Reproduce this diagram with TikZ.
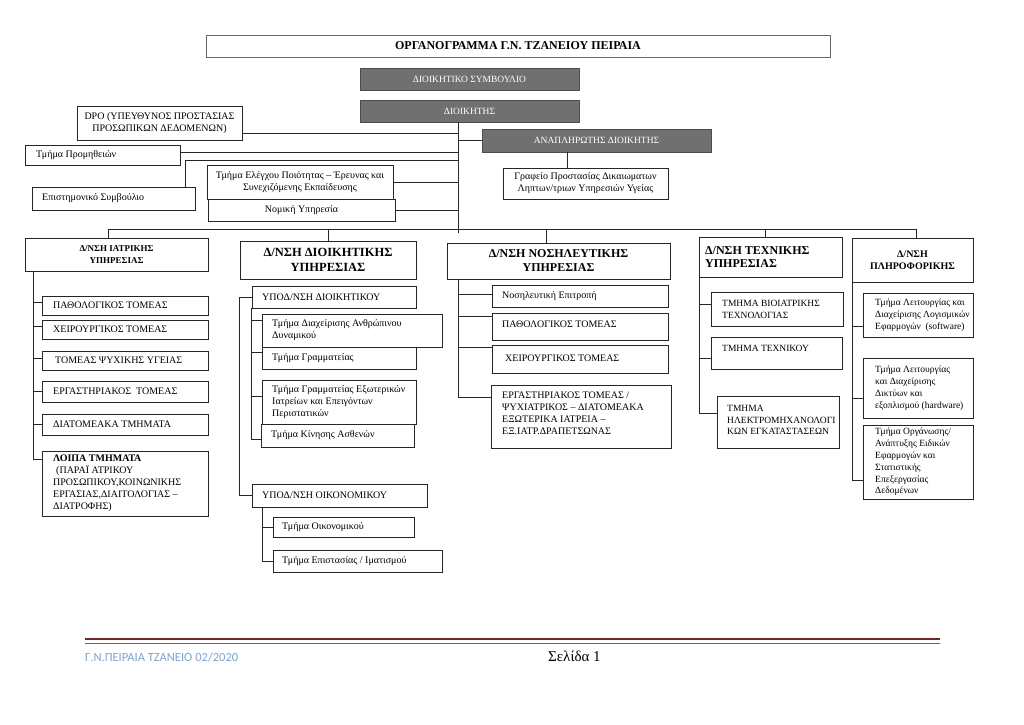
\documentclass[tikz,border=0pt]{standalone}
\usepackage{fontspec}
\setmainfont{Liberation Serif}
\newfontfamily\footfont{Carlito}

\definecolor{boardgray}{HTML}{707070}
\definecolor{footred}{HTML}{6B2A2A}
\definecolor{footblue}{HTML}{7FA3CF}

\tikzset{
  cell/.style={draw=black!85, line width=0.8pt, anchor=north west, inner sep=0pt,
    outer sep=0pt, align=center, font=\fontsize{10}{12}\selectfont},
  board/.style={cell, fill=boardgray, draw=black!70, text=white,
    font=\fontsize{9.5}{11}\selectfont},
  ctext/.style={anchor=west, align=left, inner sep=0pt, font=\fontsize{10}{12}\selectfont},
  stext/.style={ctext, font=\fontsize{9.5}{11.8}\selectfont},
  link/.style={draw=black!85, line width=0.7pt},
}

\begin{document}
\begin{tikzpicture}[x=1pt,y=-1pt]
  \useasboundingbox (0,0) rectangle (1024,724);

  % top of the chart
  \node[cell, draw=black!60, line width=1pt, minimum width=624pt, minimum height=22pt,
    font=\bfseries\fontsize{12}{14}\selectfont] (title) at (206,35) {ΟΡΓΑΝΟΓΡΑΜΜΑ Γ.Ν. ΤΖΑΝΕΙΟΥ ΠΕΙΡΑΙΑ};
  \node[board, minimum width=219pt, minimum height=22pt] (board) at (360,68) {ΔΙΟΙΚΗΤΙΚΟ ΣΥΜΒΟΥΛΙΟ};
  \node[board, minimum width=219pt, minimum height=22pt] (dir) at (360,100) {ΔΙΟΙΚΗΤΗΣ};
  \node[board, minimum width=229pt, minimum height=23pt] (deputy) at (482,129) {ΑΝΑΠΛΗΡΩΤΗΣ ΔΙΟΙΚΗΤΗΣ};

  \node[cell, minimum width=165pt, minimum height=34pt] (dpo) at (77,106) {DPO (ΥΠΕΥΘΥΝΟΣ ΠΡΟΣΤΑΣΙΑΣ\\ΠΡΟΣΩΠΙΚΩΝ ΔΕΔΟΜΕΝΩΝ)};
  \node[cell, minimum width=155pt, minimum height=20pt] (supply) at (25,145) {};
  \node[ctext] (supply-t) at ([xshift=11pt]supply.west) {Τμήμα Προμηθειών};
  \node[cell, minimum width=163pt, minimum height=23pt] (science) at (32,187) {};
  \node[ctext] (science-t) at ([xshift=10pt]science.west) {Επιστημονικό Συμβούλιο};
  \node[cell, minimum width=187pt, minimum height=22pt] (legal) at (208,199) {Νομική Υπηρεσία};
  \node[cell, minimum width=186pt, minimum height=34pt] (quality) at (207,165) {Τμήμα Ελέγχου Ποιότητας – Έρευνας και\\Συνεχιζόμενης Εκπαίδευσης};
  \node[cell, minimum width=165pt, minimum height=31pt] (rights) at (503,168) {Γραφείο Προστασίας Δικαιωματων\\Ληπτων/τριων Υπηρεσιών Υγείας};

  % spine from the director
  \coordinate (spine) at (458,233);
  \draw[link] (dir.south -| spine) -- (spine);
  \draw[link] (dpo.east |- 0,133) -- (spine |- 0,133);
  \draw[link] (supply.east |- 0,152) -- (spine |- 0,152);
  \draw[link] (science.north -| 185,0) |- (spine |- 0,160);
  \draw[link] (quality.east) -- (quality.east -| spine);
  \draw[link] (legal.east) -- (legal.east -| spine);
  \draw[link] (deputy.west) -- (deputy.west -| spine);
  \draw[link] (deputy.south -| 567,0) -- (rights.north -| 567,0);

  % directorates
  \coordinate (busl) at (108,229);
  \coordinate (busr) at (916,229);
  \draw[link] (busl) -- (busr);

  \node[cell, minimum width=183pt, minimum height=33pt, font=\bfseries\fontsize{9}{12}\selectfont] (med) at (25,238) {Δ/ΝΣΗ ΙΑΤΡΙΚΗΣ\\ΥΠΗΡΕΣΙΑΣ};
  \node[cell, minimum width=176pt, minimum height=38pt, font=\bfseries\fontsize{12.5}{15}\selectfont] (adm) at (240,241) {Δ/ΝΣΗ ΔΙΟΙΚΗΤΙΚΗΣ\\ΥΠΗΡΕΣΙΑΣ};
  \node[cell, minimum width=223pt, minimum height=36pt, font=\bfseries\fontsize{12}{14}\selectfont] (nur) at (447,243) {Δ/ΝΣΗ ΝΟΣΗΛΕΥΤΙΚΗΣ\\ΥΠΗΡΕΣΙΑΣ};
  \node[cell, minimum width=143pt, minimum height=40pt] (tech) at (699,237) {};
  \node[ctext, font=\bfseries\fontsize{12}{13}\selectfont] (tech-t) at ([xshift=6pt]tech.west) {Δ/ΝΣΗ ΤΕΧΝΙΚΗΣ\\ΥΠΗΡΕΣΙΑΣ};
  \node[cell, minimum width=121pt, minimum height=44pt, font=\bfseries\fontsize{10}{12.5}\selectfont] (info) at (852,238) {Δ/ΝΣΗ\\ΠΛΗΡΟΦΟΡΙΚΗΣ};

  \draw[link] (busl) -- (busl |- med.north);
  \draw[link] (busl -| adm.north) -- (adm.north);
  \draw[link] (busl -| 546,0) -- (nur.north -| 546,0);
  \draw[link] (busl -| 765,0) -- (tech.north -| 765,0);
  \draw[link] (busr) -- (busr |- info.north);

  % medical service
  \node[cell, minimum width=166pt, minimum height=19pt] (med1) at (42,296) {};
  \node[ctext] (med1-t) at ([xshift=11pt]med1.west) {ΠΑΘΟΛΟΓΙΚΟΣ ΤΟΜΕΑΣ};
  \node[cell, minimum width=166pt, minimum height=19pt] (med2) at (42,320) {};
  \node[ctext] (med2-t) at ([xshift=11pt]med2.west) {ΧΕΙΡΟΥΡΓΙΚΟΣ ΤΟΜΕΑΣ};
  \node[cell, minimum width=166pt, minimum height=19pt] (med3) at (42,351) {};
  \node[ctext] (med3-t) at ([xshift=13pt]med3.west) {ΤΟΜΕΑΣ ΨΥΧΙΚΗΣ ΥΓΕΙΑΣ};
  \node[cell, minimum width=166pt, minimum height=21pt] (med4) at (42,381) {};
  \node[ctext] (med4-t) at ([xshift=11pt]med4.west) {ΕΡΓΑΣΤΗΡΙΑΚΟΣ~ ΤΟΜΕΑΣ};
  \node[cell, minimum width=166pt, minimum height=21pt] (med5) at (42,414) {};
  \node[ctext] (med5-t) at ([xshift=11pt]med5.west) {ΔΙΑΤΟΜΕΑΚΑ ΤΜΗΜΑΤΑ};
  \node[cell, minimum width=166pt, minimum height=65pt] (med6) at (42,451) {};
  \node[ctext] (med6-t) at ([xshift=11pt]med6.west) {\textbf{ΛΟΙΠΑ ΤΜΗΜΑΤΑ}\\\hspace*{3pt}(ΠΑΡΑΪ ΑΤΡΙΚΟΥ\\ΠΡΟΣΩΠΙΚΟΥ,ΚΟΙΝΩΝΙΚΗΣ\\ΕΡΓΑΣΙΑΣ,ΔΙΑΙΤΟΛΟΓΙΑΣ –\\ΔΙΑΤΡΟΦΗΣ)};

  \coordinate (medbar) at (33,0);
  \draw[link] (med.south -| medbar) |- (med6.west |- 0,459);
  \draw[link] (med1.west |- 0,302) -- (medbar |- 0,302);
  \draw[link] (med2.west |- 0,326) -- (medbar |- 0,326);
  \draw[link] (med3.west |- 0,358) -- (medbar |- 0,358);
  \draw[link] (med4.west) -- (med4.west -| medbar);
  \draw[link] (med5.west) -- (med5.west -| medbar);

  % administrative service
  \node[cell, minimum width=164pt, minimum height=22pt] (adm1) at (252,286) {};
  \node[ctext] (adm1-t) at ([xshift=10pt]adm1.west) {ΥΠΟΔ/ΝΣΗ ΔΙΟΙΚΗΤΙΚΟΥ};
  \node[cell, minimum width=154pt, minimum height=22pt] (adm3) at (262,347) {};
  \node[ctext] (adm3-t) at ([xshift=10pt]adm3.west) {Τμήμα Γραμματείας};
  \node[cell, minimum width=180pt, minimum height=33pt] (adm2) at (262,314) {};
  \node[ctext] (adm2-t) at ([xshift=10pt]adm2.west) {Τμήμα Διαχείρισης Ανθρώπινου\\Δυναμικού};
  \node[cell, minimum width=153pt, minimum height=23pt] (adm5) at (261,424) {};
  \node[ctext] (adm5-t) at ([xshift=10pt]adm5.west) {Τμήμα Κίνησης Ασθενών};
  \node[cell, minimum width=154pt, minimum height=44pt] (adm4) at (262,380) {};
  \node[ctext] (adm4-t) at ([xshift=10pt]adm4.west) {Τμήμα Γραμματείας Εξωτερικών\\Ιατρείων και Επειγόντων\\Περιστατικών};
  \node[cell, minimum width=175pt, minimum height=23pt] (adm6) at (252,484) {};
  \node[ctext] (adm6-t) at ([xshift=10pt]adm6.west) {ΥΠΟΔ/ΝΣΗ ΟΙΚΟΝΟΜΙΚΟΥ};
  \node[cell, minimum width=141pt, minimum height=20pt] (adm7) at (273,517) {};
  \node[ctext] (adm7-t) at ([xshift=9pt]adm7.west) {Τμήμα Οικονομικού};
  \node[cell, minimum width=169pt, minimum height=22pt] (adm8) at (273,550) {};
  \node[ctext] (adm8-t) at ([xshift=9pt]adm8.west) {Τμήμα Επιστασίας / Ιματισμού};

  \coordinate (admbar) at (239,0);
  \coordinate (subbar) at (251,0);
  \coordinate (finbar) at (262,0);
  \draw[link] (adm1.west) -| (admbar |- adm6.west) -- (adm6.west);
  \draw[link] (adm1.south -| subbar) |- (adm5.west |- 0,439);
  \draw[link] (adm2.west |- 0,320) -- (subbar |- 0,320);
  \draw[link] (adm3.west |- 0,352) -- (subbar |- 0,352);
  \draw[link] (adm4.west |- 0,396) -- (subbar |- 0,396);
  \draw[link] (adm6.south -| finbar) |- (adm8.west);
  \draw[link] (adm7.west) -- (adm7.west -| finbar);

  % nursing service
  \node[cell, minimum width=176pt, minimum height=22pt] (nur1) at (492,285) {};
  \node[ctext] (nur1-t) at ([xshift=10pt]nur1.west) {Νοσηλευτική Επιτροπή};
  \node[cell, minimum width=176pt, minimum height=27pt] (nur2) at (492,313) {};
  \node[ctext] (nur2-t) at ([xshift=10pt,yshift=2pt]nur2.west) {ΠΑΘΟΛΟΓΙΚΟΣ ΤΟΜΕΑΣ};
  \node[cell, minimum width=176pt, minimum height=28pt] (nur3) at (492,345) {};
  \node[ctext] (nur3-t) at ([xshift=13pt,yshift=1pt]nur3.west) {ΧΕΙΡΟΥΡΓΙΚΟΣ ΤΟΜΕΑΣ};
  \node[cell, minimum width=180pt, minimum height=63pt] (nur4) at (491,385) {};
  \node[ctext] (nur4-t) at ([xshift=11pt,yshift=3pt]nur4.west) {ΕΡΓΑΣΤΗΡΙΑΚΟΣ ΤΟΜΕΑΣ /\\ΨΥΧΙΑΤΡΙΚΟΣ – ΔΙΑΤΟΜΕΑΚΑ\\ΕΞΩΤΕΡΙΚΑ ΙΑΤΡΕΙΑ –\\ΕΞ.ΙΑΤΡ.ΔΡΑΠΕΤΣΩΝΑΣ};

  \coordinate (nurbar) at (458,0);
  \draw[link] (nur.south -| nurbar) |- (nur4.west |- 0,397);
  \draw[link] (nur1.west |- 0,294) -- (nurbar |- 0,294);
  \draw[link] (nur2.west |- 0,316) -- (nurbar |- 0,316);
  \draw[link] (nur3.west |- 0,347) -- (nurbar |- 0,347);

  % technical service
  \node[cell, minimum width=132pt, minimum height=34pt] (tech1) at (711,292) {};
  \node[stext] (tech1-t) at ([xshift=11pt]tech1.west) {ΤΜΗΜΑ ΒΙΟΙΑΤΡΙΚΗΣ\\ΤΕΧΝΟΛΟΓΙΑΣ};
  \node[cell, minimum width=131pt, minimum height=32pt] (tech2) at (711,337) {};
  \node[stext] (tech2-t) at ([xshift=11pt,yshift=5pt]tech2.west) {ΤΜΗΜΑ ΤΕΧΝΙΚΟΥ};
  \node[cell, minimum width=122pt, minimum height=52pt] (tech3) at (717,396) {};
  \node[stext] (tech3-t) at ([xshift=10pt,yshift=2pt]tech3.west) {ΤΜΗΜΑ\\ΗΛΕΚΤΡΟΜΗΧΑΝΟΛΟΓΙ\\ΚΩΝ ΕΓΚΑΤΑΣΤΑΣΕΩΝ};

  \draw[link] (tech.south west) |- (tech3.west |- 0,413);
  \draw[link] (tech1.west |- 0,304) -- (tech.south west |- 0,304);
  \draw[link] (tech2.west |- 0,358) -- (tech.south west |- 0,358);

  % informatics
  \node[cell, minimum width=110pt, minimum height=44pt] (info1) at (863,293) {};
  \node[stext] (info1-t) at ([xshift=12pt]info1.west) {Τμήμα Λειτουργίας και\\Διαχείρισης Λογισμικών\\Εφαρμογών~ (software)};
  \node[cell, minimum width=110pt, minimum height=60pt] (info2) at (863,358) {};
  \node[stext] (info2-t) at ([xshift=12pt]info2.west) {Τμήμα Λειτουργίας\\και Διαχείρισης\\Δικτύων και\\εξοπλισμού (hardware)};
  \node[cell, minimum width=110pt, minimum height=74pt] (info3) at (863,425) {};
  \node[stext] (info3-t) at ([xshift=12pt]info3.west) {Τμήμα Οργάνωσης/\\Ανάπτυξης Ειδικών\\Εφαρμογών και\\Στατιστικής\\Επεξεργασίας\\Δεδομένων};

  \draw[link] (info.south west) |- (info3.west |- 0,480);
  \draw[link] (info1.west |- 0,326) -- (info.south west |- 0,326);
  \draw[link] (info2.west |- 0,398) -- (info.south west |- 0,398);

  % footer
  \draw[line width=2.8pt, footred] (85,639) -- (940,639);
  \draw[line width=0.6pt, footred!80] (85,643) -- (940,643);
  \node[anchor=west, inner sep=0pt, text=footblue, font=\footfont\fontsize{12.5}{14}\selectfont] (foot) at (85,657) {Γ.Ν.ΠΕΙΡΑΙΑ ΤΖΑΝΕΙΟ 02/2020};
  \node[anchor=west, inner sep=0pt, font=\fontsize{15}{17}\selectfont] (page) at (548,656) {Σελίδα 1};
\end{tikzpicture}
\end{document}
